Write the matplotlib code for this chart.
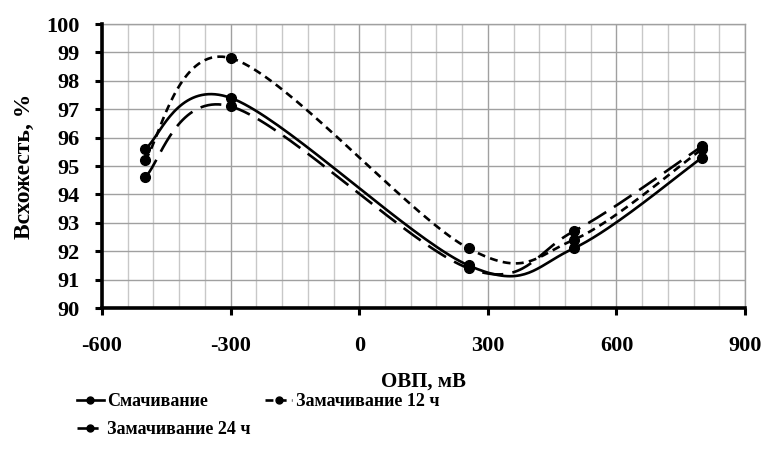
import matplotlib.pyplot as plt
import numpy as np

# Data
ovp = [-500, -300, 255, 500, 800]
smach = [95.6, 97.4, 91.5, 92.1, 95.3]
zam12 = [95.2, 98.8, 92.1, 92.4, 95.6]
zam24 = [94.6, 97.1, 91.4, 92.7, 95.7]
names = ['Смачивание', 'Замачивание 12 ч', 'Замачивание 24 ч']


def excel_smooth(xs, ys, n=40):
    # Catmull-Rom style Bezier, like Excel's "smoothed line"
    p = np.column_stack([xs, ys]).astype(float)
    p_ext = np.vstack([p[0], p, p[-1]])
    out = []
    for i in range(len(p) - 1):
        p0, p1, p2, p3 = p_ext[i], p_ext[i + 1], p_ext[i + 2], p_ext[i + 3]
        c1 = p1 + (p2 - p0) / 6
        c2 = p2 - (p3 - p1) / 6
        t = np.linspace(0, 1, n)[:, None]
        seg = ((1 - t) ** 3) * p1 + 3 * ((1 - t) ** 2) * t * c1 + 3 * (1 - t) * t ** 2 * c2 + t ** 3 * p2
        out.append(seg if i == 0 else seg[1:])
    out = np.vstack(out)
    return out[:, 0], out[:, 1]


plt.rcParams['font.family'] = ['Liberation Serif', 'DejaVu Serif']
plt.rcParams['font.weight'] = 'bold'
plt.rcParams['axes.unicode_minus'] = False

fig = plt.figure(figsize=(7.65, 4.53), dpi=100)
ax = fig.add_axes([0.1333, 0.320, 0.8407, 0.627])

styles = [None, (0, (3, 2)), (0, (8, 3.5))]
series = [smach, zam12, zam24]
handles = []
for vals, name, dash in zip(series, names, styles):
    sx, sy = excel_smooth(ovp, vals)
    ls = '-' if dash is None else dash
    ax.plot(sx, sy, color='black', lw=1.9, linestyle=ls, zorder=3)
    ax.plot(ovp, vals, 'o', color='black', ms=7, zorder=4)
    h, = ax.plot([], [], color='black', lw=1.9, linestyle=ls, marker='o', ms=5)
    handles.append(h)

ax.set_xlim(-600, 900)
ax.set_ylim(90, 100)
ax.set_xticks(np.arange(-600, 901, 300))
ax.set_xticks(np.arange(-600, 901, 60), minor=True)
ax.set_yticks(np.arange(90, 101, 1))
ax.grid(which='major', color='#a0a0a0', lw=1.0)
ax.grid(which='minor', axis='x', color='#c8c8c8', lw=1.0)
ax.tick_params(which='minor', length=0)
ax.tick_params(which='major', direction='out', length=5, width=2.2, labelsize=16)
ax.tick_params(axis='x', pad=15)
ax.tick_params(axis='y', pad=11)
for s in ['left', 'bottom']:
    ax.spines[s].set_linewidth(2.6)
    ax.spines[s].set_zorder(5)
for s in ['top', 'right']:
    ax.spines[s].set_color('#a0a0a0')
    ax.spines[s].set_linewidth(1.0)
for lab in ax.get_xticklabels() + ax.get_yticklabels():
    lab.set_fontweight('bold')

ax.set_xlabel('ОВП, мВ', fontsize=15, fontweight='bold', labelpad=11)
ax.set_ylabel('Всхожесть, %', fontsize=17, fontweight='bold', labelpad=8)

# row 1: Смачивание, 12 ч; row 2: 24 ч
order = [0, 2, 1]
fig.legend([handles[i] for i in order], [names[i] for i in order],
           loc='center left', bbox_to_anchor=(0.079, 0.082), ncol=2,
           frameon=False, handlelength=1.5, handletextpad=0.2,
           columnspacing=0.8, labelspacing=0.6,
           prop={'weight': 'bold', 'size': 13})

fig.savefig('out.png', dpi=100)
